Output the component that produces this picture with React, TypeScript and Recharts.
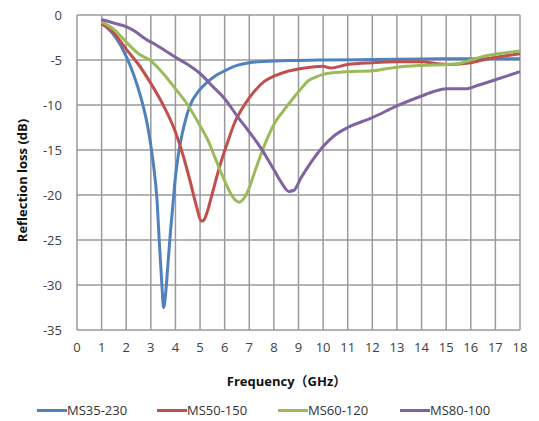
import React from 'react';
import { LineChart, Line, XAxis, YAxis, CartesianGrid, Label } from 'recharts';

const xTicks = [0, 1, 2, 3, 4, 5, 6, 7, 8, 9, 10, 11, 12, 13, 14, 15, 16, 17, 18];
const yTicks = [0, -5, -10, -15, -20, -25, -30, -35];

const seriesNames = ['MS35-230', 'MS50-150', 'MS60-120', 'MS80-100'];
const seriesColors = ['#4F81BD', '#C0504D', '#9BBB59', '#8064A2'];

const blueFreq = [1, 1.3, 1.6, 2, 2.3, 2.6, 2.9, 3.1, 3.25, 3.35, 3.45, 3.52, 3.6, 3.7, 3.8, 3.9, 4.0, 4.15, 4.35, 4.6, 4.9, 5.2, 5.6, 6, 6.5, 7, 8, 9, 10, 12, 14, 16, 18];
const blueVal = [-0.9, -1.6, -2.6, -4.6, -6.6, -9.2, -12.8, -16.5, -20.5, -25.5, -30, -32.5, -31, -27.5, -24, -21, -18, -15, -12.3, -10, -8.6, -7.7, -6.8, -6.2, -5.6, -5.3, -5.1, -5.05, -5.0, -4.95, -4.9, -4.85, -4.85];

const redFreq = [1, 1.5, 2, 2.5, 3, 3.5, 4, 4.3, 4.6, 4.85, 5.05, 5.15, 5.3, 5.5, 5.8, 6.1, 6.4, 6.8, 7.2, 7.6, 8, 8.5, 9, 9.5, 10, 10.3, 11, 12, 13, 14, 14.6, 15.2, 16, 16.8, 17.5, 18];
const redVal = [-1.0, -2.0, -3.8, -5.5, -7.6, -10, -13, -15.5, -18.5, -21.2, -22.9, -22.8, -21.8, -19.8, -16.8, -14.3, -12, -10, -8.5, -7.4, -6.8, -6.3, -6.0, -5.8, -5.7, -5.9, -5.5, -5.3, -5.2, -5.2, -5.4, -5.5, -5.3, -4.8, -4.5, -4.3];

const greenFreq = [1, 1.5, 2, 2.5, 3, 3.5, 4, 4.5, 5, 5.3, 5.6, 5.9, 6.2, 6.45, 6.6, 6.8, 7.0, 7.2, 7.5, 7.8, 8.1, 8.4, 8.8, 9.1, 9.4, 9.7, 10, 10.5, 11, 12, 12.5, 13, 14, 15, 15.5, 16, 16.5, 17, 18];
const greenVal = [-0.8, -1.6, -3, -4.3, -5.1, -6.5, -8.2, -10, -12.3, -13.8, -15.8, -17.8, -19.6, -20.6, -20.8, -20.3, -19.2, -17.6, -15.3, -13.3, -11.7, -10.6, -9.2, -8.2, -7.3, -6.9, -6.6, -6.4, -6.3, -6.2, -6.0, -5.8, -5.6, -5.5, -5.4, -5.0, -4.6, -4.35, -4.0];

const purpleFreq = [1, 1.5, 2, 2.4, 2.8, 3.2, 3.6, 4, 4.5, 5, 5.5, 6, 6.5, 7, 7.5, 8, 8.3, 8.6, 8.8, 9.1, 9.5, 10, 10.5, 11, 12, 13, 14, 14.5, 15, 15.8, 16.3, 17, 18];
const purpleVal = [-0.5, -0.9, -1.3, -1.9, -2.7, -3.3, -4.0, -4.7, -5.5, -6.5, -7.9, -9.3, -11.2, -13.0, -14.9, -17.2, -18.6, -19.6, -19.5, -18.1, -16.4, -14.6, -13.3, -12.5, -11.4, -10.1, -9.0, -8.5, -8.2, -8.2, -7.8, -7.2, -6.3];

const toData = (fs: number[], vs: number[]) => fs.map((f, i) => ({ f, v: vs[i] }));
const seriesData = [
  toData(blueFreq, blueVal),
  toData(redFreq, redVal),
  toData(greenFreq, greenVal),
  toData(purpleFreq, purpleVal),
];

const legendLeft = [37, 157, 278, 400];

const font = '"Open Sans", "Noto Sans CJK SC", sans-serif';
const gridColor = '#9a9a9a';

export default function App() {
  return (
    <div style={{ position: 'absolute', left: 0, top: 0, width: 539, height: 421, background: '#fff', fontFamily: font }}>
      <LineChart width={539} height={421} margin={{ top: 15, right: 19, bottom: 33, left: 0 }}>
        <CartesianGrid stroke={gridColor} strokeWidth={1.5} />
        <XAxis
          type="number"
          dataKey="f"
          domain={[0, 18]}
          ticks={xTicks}
          interval={0}
          axisLine={false}
          tickLine={false}
          tickSize={6}
          tickMargin={7}
          height={58}
          tick={{ fill: '#404040', fontSize: 13, fontFamily: font }}
        >
          <Label value="Frequency（GHz）" position="insideBottom" offset={2} dx={-12} style={{ fill: '#111', fontSize: 13, fontWeight: 700, fontFamily: font }} />
        </XAxis>
        <YAxis
          type="number"
          domain={[-35, 0]}
          ticks={yTicks}
          interval={0}
          axisLine={false}
          tickLine={false}
          tickSize={6}
          tickMargin={9}
          width={77}
          tick={{ fill: '#404040', fontSize: 13, fontFamily: font }}
        >
          <Label value="Reflection loss (dB)" angle={-90} position="insideLeft" offset={22} dy={8} style={{ textAnchor: 'middle', fill: '#111', fontSize: 13, fontWeight: 700, fontFamily: font }} />
        </YAxis>
        {seriesData.map((d, i) => (
          <Line
            key={seriesNames[i]}
            data={d}
            dataKey="v"
            name={seriesNames[i]}
            type="monotone"
            stroke={seriesColors[i]}
            strokeWidth={3}
            dot={false}
            isAnimationActive={false}
          />
        ))}
      </LineChart>
      {seriesNames.map((n, i) => (
        <div key={n} style={{ position: 'absolute', left: legendLeft[i], top: 401, display: 'flex', alignItems: 'center', fontSize: 13, color: '#333', fontFamily: font, whiteSpace: 'nowrap' }}>
          <span style={{ display: 'inline-block', width: 30, height: 3, background: seriesColors[i] }} />
          <span>{n}</span>
        </div>
      ))}
    </div>
  );
}
